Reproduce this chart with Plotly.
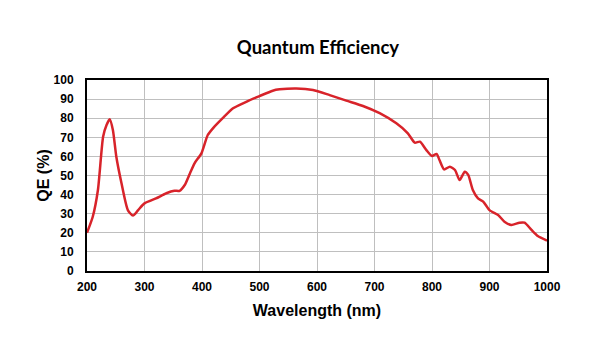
import plotly.graph_objects as go

wavelength_nm = [200, 210, 219, 228, 234, 239.5, 245, 251, 260, 271, 280, 289, 300, 320, 338, 352,
                 361, 370, 379, 387, 399, 410, 419, 436, 454, 477, 500, 523, 535, 564, 593,
                 622, 651, 680, 709, 738, 758, 770, 779, 790, 800, 808, 813, 821, 831, 840,
                 848, 857, 863, 871, 880, 889, 900, 915, 926, 938, 952, 961, 973, 984, 1000]
qe_percent = [20, 28.4, 42.4, 70.3, 76.4, 79.4, 73.8, 59.8, 45.9, 31.9, 29.0, 31.9, 35.4, 38, 40.7, 42,
              42, 45, 51.1, 56.4, 61.6, 71.2, 74.7, 80, 85.2, 88.6, 91.6, 94.4, 95.1, 95.6, 94.8,
              92.1, 89.2, 86.4, 82.6, 77.3, 72.1, 67.2, 67.7, 63.4, 60.2, 61.3, 58.1, 53.2, 54.6, 52.9,
              47.6, 52.0, 50.3, 42.4, 38, 36.3, 31.9, 29.3, 25.8, 24.1, 25.3, 25.3, 21.5, 18.3, 15.9]

x_ticks = [200, 300, 400, 500, 600, 700, 800, 900, 1000]
y_ticks = [0, 10, 20, 30, 40, 50, 60, 70, 80, 90, 100]

fig = go.Figure()
fig.add_trace(go.Scatter(
    x=wavelength_nm, y=qe_percent, mode="lines",
    line=dict(color="#d8232a", width=2.5, shape="spline", smoothing=0.6),
    showlegend=False, hoverinfo="skip"))

axis_font = dict(family="Liberation Sans, Arial, sans-serif", size=12, color="black")
title_font = dict(family="Liberation Sans, Arial, sans-serif", size=16, color="black")
fig.update_layout(
    width=600, height=350,
    margin=dict(l=87, r=53, t=80, b=79),
    paper_bgcolor="white", plot_bgcolor="white",
    title=dict(text="<b>Quantum Efficiency</b>", x=0.53, xanchor="center", y=0.865, yanchor="middle",
               font=dict(family="Lato, Carlito, sans-serif", size=18.5, color="black")),
    xaxis=dict(range=[200, 1000], tickvals=x_ticks, ticktext=[f"<b>{v}</b>" for v in x_ticks],
               showgrid=True, gridcolor="#bfbfbf", gridwidth=1,
               showline=True, linecolor="black", linewidth=2, mirror=True,
               ticks="", tickfont=axis_font, zeroline=False, ticklabelstandoff=4,
               title=dict(text="<b>Wavelength (nm)</b>", standoff=11, font=title_font)),
    yaxis=dict(range=[0, 100], tickvals=y_ticks, ticktext=[f"<b>{v}</b>" for v in y_ticks],
               showgrid=True, gridcolor="#bfbfbf", gridwidth=1,
               showline=True, linecolor="black", linewidth=2, mirror=True,
               ticks="", tickfont=axis_font, zeroline=False, ticklabelstandoff=9,
               title=dict(text="<b>QE (%)</b>", standoff=0, font=title_font)),
)

fig.write_html("out.html")
